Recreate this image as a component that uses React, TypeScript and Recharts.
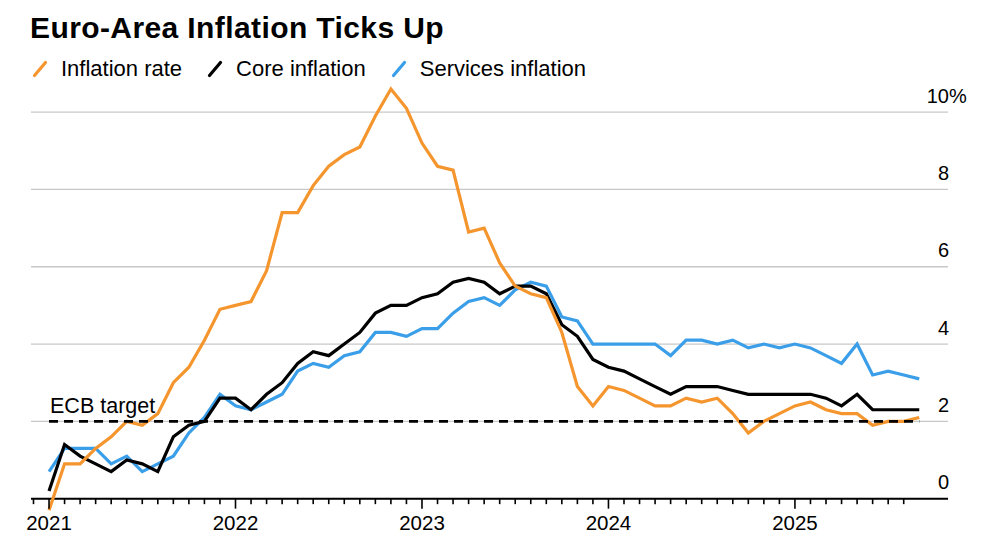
import React from "react";
import { LineChart, Line, XAxis, YAxis, CartesianGrid, ReferenceLine } from "recharts";

// monthly readings, Dec 2020 .. Aug 2025 (plotted at month end)
const months = [
  "2020-12",
  "2021-01", "2021-02", "2021-03", "2021-04", "2021-05", "2021-06", "2021-07", "2021-08", "2021-09", "2021-10", "2021-11", "2021-12",
  "2022-01", "2022-02", "2022-03", "2022-04", "2022-05", "2022-06", "2022-07", "2022-08", "2022-09", "2022-10", "2022-11", "2022-12",
  "2023-01", "2023-02", "2023-03", "2023-04", "2023-05", "2023-06", "2023-07", "2023-08", "2023-09", "2023-10", "2023-11", "2023-12",
  "2024-01", "2024-02", "2024-03", "2024-04", "2024-05", "2024-06", "2024-07", "2024-08", "2024-09", "2024-10", "2024-11", "2024-12",
  "2025-01", "2025-02", "2025-03", "2025-04", "2025-05", "2025-06", "2025-07", "2025-08",
];

const inflationRate = [
  -0.3,
  0.9, 0.9, 1.3, 1.6, 2.0, 1.9, 2.2, 3.0, 3.4, 4.1, 4.9, 5.0,
  5.1, 5.9, 7.4, 7.4, 8.1, 8.6, 8.9, 9.1, 9.9, 10.6, 10.1, 9.2,
  8.6, 8.5, 6.9, 7.0, 6.1, 5.5, 5.3, 5.2, 4.3, 2.9, 2.4, 2.9,
  2.8, 2.6, 2.4, 2.4, 2.6, 2.5, 2.6, 2.2, 1.7, 2.0, 2.2, 2.4,
  2.5, 2.3, 2.2, 2.2, 1.9, 2.0, 2.0, 2.1,
];

const coreInflation = [
  0.2,
  1.4, 1.1, 0.9, 0.7, 1.0, 0.9, 0.7, 1.6, 1.9, 2.0, 2.6, 2.6,
  2.3, 2.7, 3.0, 3.5, 3.8, 3.7, 4.0, 4.3, 4.8, 5.0, 5.0, 5.2,
  5.3, 5.6, 5.7, 5.6, 5.3, 5.5, 5.5, 5.3, 4.5, 4.2, 3.6, 3.4,
  3.3, 3.1, 2.9, 2.7, 2.9, 2.9, 2.9, 2.8, 2.7, 2.7, 2.7, 2.7,
  2.7, 2.6, 2.4, 2.7, 2.3, 2.3, 2.3, 2.3,
];

const servicesInflation = [
  0.7,
  1.3, 1.3, 1.3, 0.9, 1.1, 0.7, 0.9, 1.1, 1.7, 2.1, 2.7, 2.4,
  2.3, 2.5, 2.7, 3.3, 3.5, 3.4, 3.7, 3.8, 4.3, 4.3, 4.2, 4.4,
  4.4, 4.8, 5.1, 5.2, 5.0, 5.4, 5.6, 5.5, 4.7, 4.6, 4.0, 4.0,
  4.0, 4.0, 4.0, 3.7, 4.1, 4.1, 4.0, 4.1, 3.9, 4.0, 3.9, 4.0,
  3.9, 3.7, 3.5, 4.0, 3.2, 3.3, 3.2, 3.1,
];

const yearTicks = [0, 12, 24, 36, 48];
const yearLabels = ["2021", "2022", "2023", "2024", "2025"];
const yTicks = [0, 2, 4, 6, 8, 10];
const ecbTarget = 2;

const ORANGE = "#F5952E";
const BLACK = "#000000";
const BLUE = "#3A9EE8";
const FONT = "'Liberation Sans', Arial, Helvetica, sans-serif";

// y scale: 0 sits a little above the bottom of the plot so the Dec 2020 dip can hang below the axis
const Y_MIN = -0.4;
const Y_MAX = 11;
const PX_PER_UNIT = 38.65;
const PLOT_TOP = 73.5;
const PLOT_BOTTOM = PLOT_TOP + (Y_MAX - Y_MIN) * PX_PER_UNIT;
const ZERO_OFFSET = -Y_MIN * PX_PER_UNIT;

const data = months.map((m, i) => ({
  t: i,
  month: m,
  inflation: inflationRate[i],
  core: coreInflation[i],
  services: servicesInflation[i],
}));

// one tick per month, from the month before the first reading
const monthTicks = Array.from({ length: 57 }, (_, i) => i - 1);

const legendItems = [
  { label: "Inflation rate", color: ORANGE },
  { label: "Core inflation", color: BLACK },
  { label: "Services inflation", color: BLUE },
];

function XTick({ x, y, payload }: any) {
  const idx = yearTicks.indexOf(payload.value);
  const major = idx >= 0;
  const y0 = y - ZERO_OFFSET;
  return (
    <g>
      <line x1={x} x2={x} y1={y0} y2={y0 + (major ? 10 : 5.5)} stroke="#000" strokeWidth={1.6} />
      {major && (
        <text x={x} y={y0 + 31.5} textAnchor="middle" fontSize={20.5} fill="#000" fontFamily={FONT}>
          {yearLabels[idx]}
        </text>
      )}
    </g>
  );
}

function YTick({ x, y, payload }: any) {
  const v = payload.value;
  return (
    <g fontFamily={FONT} fontSize={20} fill="#000">
      <text x={x + 1} y={y - 9.5} textAnchor="end">{v}</text>
      {v === 10 && <text x={x + 1} y={y - 9.5}>%</text>}
    </g>
  );
}

function Slash({ color }: { color: string }) {
  return (
    <svg width={16} height={18} style={{ display: "block" }}>
      <line x1={2.5} y1={15.5} x2={13.5} y2={2.5} stroke={color} strokeWidth={3.2} strokeLinecap="round" />
    </svg>
  );
}

export default function App() {
  return (
    <div
      style={{
        position: "absolute",
        left: 0,
        top: 0,
        width: 1000,
        height: 545,
        background: "#fff",
        fontFamily: FONT,
        overflow: "hidden",
      }}
    >
      <div
        style={{
          position: "absolute",
          left: 30,
          top: 11,
          fontSize: 30,
          fontWeight: 700,
          letterSpacing: 0.4,
          color: "#000",
          whiteSpace: "nowrap",
        }}
      >
        Euro-Area Inflation Ticks Up
      </div>
      <div style={{ position: "absolute", left: 32, top: 56, display: "flex", alignItems: "center" }}>
        {legendItems.map((it) => (
          <div key={it.label} style={{ display: "flex", alignItems: "center", marginRight: 25 }}>
            <Slash color={it.color} />
            <span style={{ fontSize: 22, marginLeft: 13, color: "#000", whiteSpace: "nowrap" }}>{it.label}</span>
          </div>
        ))}
      </div>
      <LineChart
        width={1000}
        height={545}
        data={data}
        margin={{ top: PLOT_TOP, right: 0, bottom: 0, left: 31 }}
        style={{ position: "absolute", left: 0, top: 0 }}
      >
        <CartesianGrid
          horizontal
          vertical={false}
          horizontalValues={yTicks}
          stroke="#c8c8c8"
          strokeWidth={1.3}
        />
        <XAxis
          dataKey="t"
          type="number"
          domain={[-1.16, 57.85]}
          allowDataOverflow
          ticks={monthTicks}
          interval={0}
          height={545 - PLOT_BOTTOM}
          tickSize={0}
          tickMargin={0}
          tickLine={false}
          axisLine={false}
          tick={<XTick />}
        />
        <YAxis
          orientation="right"
          type="number"
          domain={[Y_MIN, Y_MAX]}
          ticks={yTicks}
          interval={0}
          width={52}
          tickSize={0}
          tickMargin={0}
          axisLine={false}
          tickLine={false}
          tick={<YTick />}
        />
        <ReferenceLine y={0} stroke="#000" strokeWidth={2} />
        <Line type="linear" dataKey="services" stroke={BLUE} strokeWidth={3.2} dot={false} isAnimationActive={false} />
        <Line type="linear" dataKey="core" stroke={BLACK} strokeWidth={3.2} dot={false} isAnimationActive={false} />
        <Line type="linear" dataKey="inflation" stroke={ORANGE} strokeWidth={3.2} dot={false} isAnimationActive={false} />
        <ReferenceLine
          segment={[
            { x: 0, y: ecbTarget },
            { x: months.length - 1, y: ecbTarget },
          ]}
          stroke="#000"
          strokeWidth={2.6}
          strokeDasharray="9 6"
          label={(props: any) => {
            const vb = props.viewBox || {};
            return (
              <text x={(vb.x ?? 49) + 1} y={(vb.y ?? 421) - 8} fontSize={21.5} fill="#000" fontFamily={FONT}>
                ECB target
              </text>
            );
          }}
        />
      </LineChart>
    </div>
  );
}
